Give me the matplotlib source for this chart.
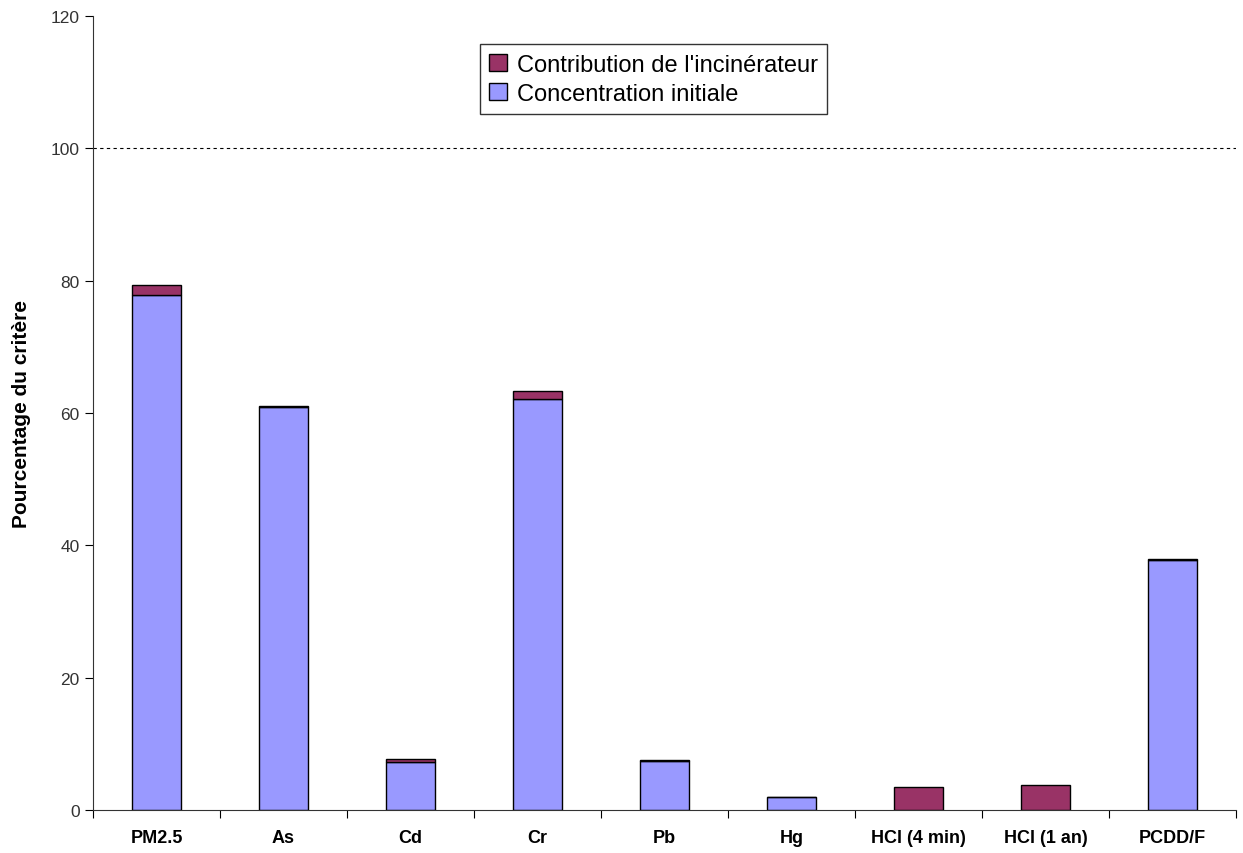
import numpy as np
import matplotlib
matplotlib.use('Agg')
import matplotlib.pyplot as plt

plt.rcParams['font.family'] = ['Liberation Sans', 'DejaVu Sans']

categories = ['PM2.5', 'As', 'Cd', 'Cr', 'Pb', 'Hg', 'HCl (4 min)', 'HCl (1 an)', 'PCDD/F']
initiale = [77.8, 60.95, 7.25, 62.1, 7.45, 2.0, 0.0, 0.0, 37.8]
contribution = [1.6, 0.15, 0.5, 1.3, 0.15, 0.0, 3.4, 3.8, 0.2]

blue = '#9999FF'
purple = '#993366'

fig = plt.figure(figsize=(12.43, 8.54), dpi=100)
ax = fig.add_axes([0.0748, 0.0504, 0.9196, 0.9296])

x = np.arange(len(categories))
w = 0.39
ax.bar(x, initiale, w, color=blue, edgecolor='black', linewidth=1.0,
       label='Concentration initiale')
ax.bar(x, contribution, w, bottom=initiale, color=purple, edgecolor='black',
       linewidth=1.0, label="Contribution de l'incinérateur")

ax.axhline(100, color='black', linestyle=(0, (3, 3)), linewidth=0.8)

ax.set_xlim(-0.5, len(categories) - 0.5)
ax.set_ylim(0, 120)
ax.set_yticks(np.arange(0, 121, 20))
ax.tick_params(axis='y', direction='out', length=6, labelsize=12.5, labelcolor='#333333')

ax.set_xticks(np.arange(-0.5, len(categories), 1.0))
ax.set_xticklabels([])
ax.tick_params(axis='x', which='major', direction='out', length=6)
ax.set_xticks(x, minor=True)
ax.set_xticklabels(categories, minor=True, fontsize=13, fontweight='bold')
ax.tick_params(axis='x', which='minor', length=0, pad=14)

for s in ['top', 'right']:
    ax.spines[s].set_visible(False)
ax.spines['left'].set_color('#333333')
ax.spines['bottom'].set_color('#333333')

ax.set_ylabel('Pourcentage du critère', fontsize=15, fontweight='bold', labelpad=14)

h, l = ax.get_legend_handles_labels()
leg = ax.legend(h[::-1], l[::-1], loc='upper left', bbox_to_anchor=(0.3386, 0.9647),
                borderaxespad=0, fontsize=17, frameon=True, fancybox=False,
                edgecolor='black', handlelength=0.75, handleheight=0.75,
                handletextpad=0.4, borderpad=0.4, labelspacing=0.3)
leg.get_frame().set_linewidth(1.0)

fig.savefig('out.png', dpi=100)
